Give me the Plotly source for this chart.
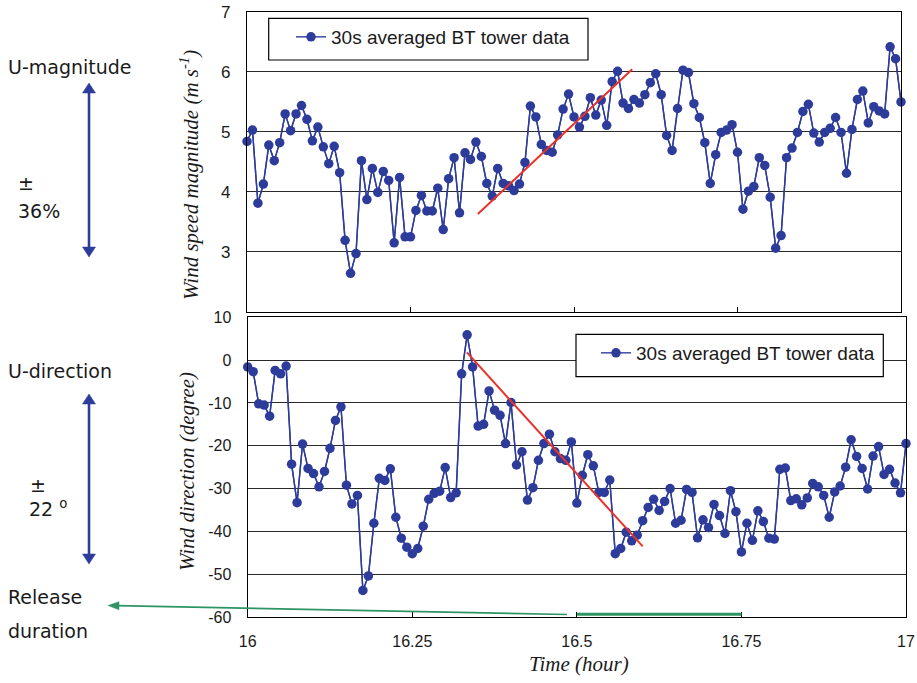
import plotly.graph_objects as go

# ---------------- data ----------------
t_start = 16.0              # hour
dt_hours = 30.0 / 3600.0    # 30 s averaging interval

speed = [4.84, 5.03, 3.81, 4.13, 4.78, 4.52, 4.82, 5.30, 5.02, 5.30,
         5.44, 5.21, 4.85, 5.08, 4.75, 4.47, 4.76, 4.32, 3.19, 2.64,
         2.97, 4.52, 3.87, 4.39, 3.99, 4.34, 4.19, 3.15, 4.24, 3.25,
         3.25, 3.69, 3.94, 3.68, 3.68, 4.06, 3.37, 4.22, 4.57, 3.65,
         4.65, 4.54, 4.83, 4.59, 4.14, 3.93, 4.39, 4.14, 4.10, 4.02,
         4.13, 4.49, 5.43, 5.25, 4.79, 4.69, 4.66, 4.95, 5.38, 5.63,
         5.25, 5.08, 5.26, 5.57, 5.28, 5.53, 5.11, 5.84, 6.01, 5.48,
         5.39, 5.54, 5.48, 5.62, 5.82, 5.97, 5.62, 4.94, 4.69, 5.39,
         6.03, 5.99, 5.47, 5.24, 4.82, 4.14, 4.62, 4.99, 5.03, 5.12,
         4.66, 3.71, 4.01, 4.09, 4.57, 4.44, 3.91, 3.06, 3.27, 4.57,
         4.73, 4.99, 5.34, 5.46, 4.98, 4.83, 4.99, 5.06, 5.24, 4.99,
         4.31, 5.04, 5.54, 5.68, 5.15, 5.42, 5.35, 5.30, 6.42, 6.22,
         5.50]
speed_before = 4.45   # sample just before 16:00 (line enters from the left)
speed_after = 5.96    # sample just after 17:00 (line leaves to the right)

direction = [-1.6, -2.7, -10.2, -10.5, -13.1, -2.4, -3.2, -1.4, -24.3, -33.3,
             -19.6, -25.3, -26.5, -29.6, -26.0, -20.6, -14.1, -10.9, -29.2, -33.6,
             -31.6, -53.8, -50.4, -38.1, -27.6, -28.1, -25.4, -36.7, -41.6, -43.7,
             -45.2, -44.0, -38.8, -32.5, -31.1, -30.6, -25.1, -32.1, -31.0, -3.2,
             5.9, -1.6, -15.4, -15.0, -7.2, -11.7, -12.9, -19.5, -9.9, -24.5,
             -21.4, -32.7, -29.8, -23.4, -19.5, -17.3, -21.4, -23.0, -23.4, -19.1,
             -33.4, -26.9, -22.1, -24.7, -30.9, -30.9, -28.0, -45.2, -44.0, -40.2,
             -42.2, -40.9, -37.5, -34.4, -32.5, -35.1, -33.0, -30.0, -38.1, -37.4,
             -30.2, -30.9, -41.5, -37.3, -39.1, -33.7, -36.3, -40.5, -30.5, -35.4,
             -44.8, -38.1, -42.1, -35.2, -37.7, -41.6, -41.8, -25.5, -25.2, -32.8,
             -32.4, -33.8, -32.2, -28.8, -29.6, -31.6, -36.7, -30.8, -29.4, -25.0,
             -18.6, -22.5, -25.3, -30.1, -22.4, -20.2, -26.7, -25.5, -28.7, -31.0,
             -19.5]
direction_before = -3.4

speed_trend_x = [16.353, 16.589]
speed_trend_y = [3.63, 6.045]
direction_trend_x = [16.333, 16.600]
direction_trend_y = [1.8, -43.5]

release_start = 16.5
release_end = 16.75

series_name = "30s averaged BT tower data"

x_tickvals = [16, 16.25, 16.5, 16.75, 17]
x_ticktext = ["16", "16.25", "16.5", "16.75", "17"]
speed_tickvals = [3, 4, 5, 6, 7]
speed_ticktext = ["3", "4", "5", "6", "7"]
dir_tickvals = [10, 0, -10, -20, -30, -40, -50, -60]
dir_ticktext = ["10", "0", "-10", "-20", "-30", "-40", "-50", "-60"]

# ---------------- derived ----------------
times = [t_start + i * dt_hours for i in range(len(speed))]
times_dir = [t_start + i * dt_hours for i in range(len(direction))]
speed_ext_x = [t_start - dt_hours] + times + [times[-1] + dt_hours]
speed_ext_y = [speed_before] + speed + [speed_after]
dir_ext_x = [t_start - dt_hours] + times_dir
dir_ext_y = [direction_before] + direction

BLUE = "#2D3C9B"
RED = "#E8322A"
GREEN = "#2E9463"
SANS = "Liberation Sans, Arial, sans-serif"
SERIF = "Liberation Serif, Times New Roman, serif"

fig = go.Figure()

# top panel
fig.add_trace(go.Scatter(x=speed_ext_x, y=speed_ext_y, mode="lines",
                         line=dict(color=BLUE, width=1.4), showlegend=False,
                         hoverinfo="skip", xaxis="x", yaxis="y"))
fig.add_trace(go.Scatter(x=times, y=speed, mode="lines+markers", name=series_name,
                         line=dict(color=BLUE, width=1.4),
                         marker=dict(color=BLUE, size=9.5),
                         cliponaxis=False, xaxis="x", yaxis="y", legend="legend"))
fig.add_trace(go.Scatter(x=speed_trend_x, y=speed_trend_y, mode="lines",
                         line=dict(color=RED, width=2), showlegend=False,
                         xaxis="x", yaxis="y"))

# bottom panel
fig.add_trace(go.Scatter(x=dir_ext_x, y=dir_ext_y, mode="lines",
                         line=dict(color=BLUE, width=1.4), showlegend=False,
                         hoverinfo="skip", xaxis="x2", yaxis="y2"))
fig.add_trace(go.Scatter(x=times_dir, y=direction, mode="lines+markers", name=series_name,
                         line=dict(color=BLUE, width=1.4),
                         marker=dict(color=BLUE, size=9.5),
                         cliponaxis=False, xaxis="x2", yaxis="y2", legend="legend2"))
fig.add_trace(go.Scatter(x=direction_trend_x, y=direction_trend_y, mode="lines",
                         line=dict(color=RED, width=2), showlegend=False,
                         xaxis="x2", yaxis="y2"))

axis_common = dict(showline=True, mirror=True, linecolor="black", linewidth=1.4,
                   zeroline=False)

L, R, T, B = 247, 11, 12, 66
W, H = 917, 683
PW, PH = W - L - R, H - T - B


def px(xpix):
    return (xpix - L) / PW


def py(ypix):
    return (H - B - ypix) / PH


fig.update_layout(
    width=W, height=H,
    margin=dict(l=L, r=R, t=T, b=B),
    template="none",
    plot_bgcolor="white", paper_bgcolor="white",
    font=dict(family=SANS, color="#1a1a1a", size=16),
    xaxis=dict(domain=[0, px(901)], anchor="y", range=[16, 17],
               tickvals=x_tickvals[1:4], showticklabels=False,
               ticks="inside", ticklen=5, tickcolor="black", tickwidth=1,
               showgrid=False, **axis_common),
    yaxis=dict(domain=[py(311.7), 1], anchor="x", range=[2, 7],
               tickvals=speed_tickvals, ticktext=speed_ticktext,
               ticks="", ticklabelstandoff=12,
               tickfont=dict(size=17, family=SANS),
               showgrid=True, gridcolor="#2a2a2a", gridwidth=1.2, **axis_common),
    xaxis2=dict(domain=[px(247.7), 1], anchor="y2", range=[16, 17],
                tickvals=x_tickvals, ticktext=x_ticktext,
                ticks="inside", ticklen=5, tickcolor="black", tickwidth=1,
                ticklabelstandoff=10, tickfont=dict(size=16, family=SANS),
                showgrid=False, **axis_common),
    yaxis2=dict(domain=[0, py(317.3)], anchor="x2", range=[-60, 10],
                tickvals=dir_tickvals, ticktext=dir_ticktext,
                ticks="", ticklabelstandoff=12,
                tickfont=dict(size=16, family=SANS),
                showgrid=True, gridcolor="#2a2a2a", gridwidth=1.2, **axis_common),
    legend=dict(x=px(291), y=py(18), xanchor="left", yanchor="top",
                bgcolor="rgba(0,0,0,0)", borderwidth=0,
                font=dict(size=19, family=SANS, color="#1a1a1a")),
    legend2=dict(x=px(596), y=py(334), xanchor="left", yanchor="top",
                 bgcolor="rgba(0,0,0,0)", borderwidth=0,
                 font=dict(size=19, family=SANS, color="#1a1a1a")),
    showlegend=True,
)

# legend frames (white boxes that hide the grid underneath)
for x0, y0, x1, y1 in [(268.7, 18.3, 588, 60), (576, 334.3, 883.3, 376.7)]:
    fig.add_shape(type="rect", xref="paper", yref="paper",
                  x0=px(x0), x1=px(x1), y0=py(y1), y1=py(y0),
                  fillcolor="white", line=dict(color="black", width=1.2),
                  layer="above")

# release duration bar on the bottom axis
fig.add_shape(type="line", xref="x2", yref="y2 domain",
              x0=release_start, x1=release_end, y0=0.009, y1=0.009,
              line=dict(color=GREEN, width=3))


def tri(points):
    return "M " + " L ".join(f"{px(a):.5f},{py(b):.5f}" for a, b in points) + " Z"


# double-headed blue arrows (shaft + two heads)
AX = 89
for top, bot in [(83, 257), (394, 564)]:
    fig.add_shape(type="line", xref="paper", yref="paper",
                  x0=px(AX), x1=px(AX), y0=py(top + 8), y1=py(bot - 8),
                  line=dict(color=BLUE, width=2.6))
    for tip, base in [(top, top + 10), (bot, bot - 10)]:
        fig.add_shape(type="path", xref="paper", yref="paper",
                      path=tri([(AX, tip), (AX - 6.5, base), (AX + 6.5, base)]),
                      fillcolor=BLUE, line=dict(color=BLUE, width=0.5))

# green arrow from the release start to the "Release duration" label
g_tip = (108, 605.5)
g_tail = (567, 614.5)
fig.add_shape(type="line", xref="paper", yref="paper",
              x0=px(g_tail[0]), y0=py(g_tail[1]), x1=px(g_tip[0] + 8), y1=py(g_tip[1] + 0.16),
              line=dict(color=GREEN, width=1.6))
fig.add_shape(type="path", xref="paper", yref="paper",
              path=tri([g_tip, (g_tip[0] + 11, g_tip[1] + 0.2 - 4),
                        (g_tip[0] + 11, g_tip[1] + 0.2 + 4)]),
              fillcolor=GREEN, line=dict(color=GREEN, width=0.5))

ann = []
# axis titles
ann.append(dict(text="<i>Wind speed magnitude (m s<sup>-1</sup>)</i>", textangle=-90,
                x=px(190), y=py(175), xref="paper", yref="paper",
                xanchor="center", yanchor="middle", showarrow=False,
                font=dict(family=SERIF, size=21, color="#1a1a1a")))
ann.append(dict(text="<i>Wind direction (degree)</i>", textangle=-90,
                x=px(187), y=py(472), xref="paper", yref="paper",
                xanchor="center", yanchor="middle", showarrow=False,
                font=dict(family=SERIF, size=21, color="#1a1a1a")))
ann.append(dict(text="<i>Time (hour)</i>",
                x=px(579), y=py(664), xref="paper", yref="paper",
                xanchor="center", yanchor="middle", showarrow=False,
                font=dict(family=SERIF, size=21, color="#1a1a1a")))

LEFT_FONT = dict(family="DejaVu Sans, sans-serif", size=19, color="#1a1a1a")
for txt, xp, yp in [("U-magnitude", 6, 67), ("±", 16, 183), ("36%", 16, 211),
                    ("U-direction", 6, 371), ("±", 28, 485), ("22 <sup>o</sup>", 27, 508),
                    ("Release", 6, 597), ("duration", 6, 631)]:
    ann.append(dict(text=txt, x=px(xp), y=py(yp), xref="paper", yref="paper",
                    xanchor="left", yanchor="middle", showarrow=False, font=LEFT_FONT))

fig.update_layout(annotations=ann)

fig.write_html("out.html")
